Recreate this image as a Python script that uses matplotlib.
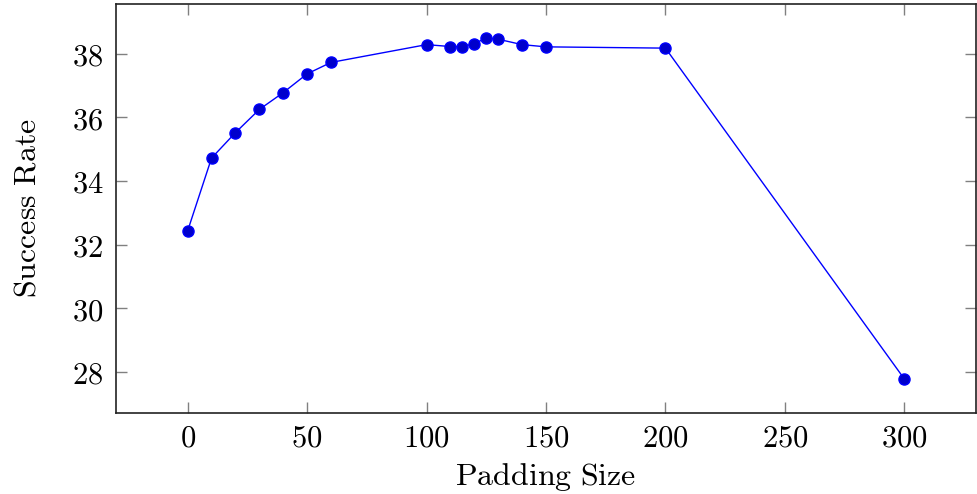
import matplotlib
matplotlib.use("Agg")
import matplotlib.pyplot as plt
from matplotlib.ticker import FuncFormatter, MultipleLocator

# values
padding_size = [0, 10, 20, 30, 40, 50, 60, 100, 110, 115, 120, 125, 130, 140, 150, 200, 300]
success_rate = [32.43, 34.72, 35.52, 36.25, 36.78, 37.37, 37.73, 38.29, 38.23, 38.23,
                38.32, 38.50, 38.46, 38.29, 38.22, 38.18, 27.77]

plt.rcParams["mathtext.fontset"] = "cm"
plt.rcParams["font.family"] = ["DejaVu Serif"]

fig = plt.figure(figsize=(9.77, 4.94), dpi=100)
ax = fig.add_axes([0.1187, 0.164, 0.8803, 0.828])

ax.plot(padding_size, success_rate, color="blue", linewidth=1.0,
        marker="o", markersize=8, markerfacecolor="#0000cc", markeredgecolor="blue")

ax.set_xlim(-30, 330)
ax.set_ylim(26.7, 39.57)
ax.xaxis.set_major_locator(MultipleLocator(50))
ax.yaxis.set_major_locator(MultipleLocator(2))
fmt = FuncFormatter(lambda v, _: f"${v:g}$")
ax.xaxis.set_major_formatter(fmt)
ax.yaxis.set_major_formatter(fmt)

ax.tick_params(direction="in", length=8, width=1.0, color="#808080",
               labelsize=22, top=True, right=True, pad=9)
ax.tick_params(axis="x", pad=7)
for sp in ax.spines.values():
    sp.set_linewidth(1.2)
    sp.set_color("#222222")

ax.set_xlabel(r"$\mathrm{Padding\ Size}$", fontsize=23, labelpad=5)
ax.set_ylabel(r"$\mathrm{Success\ Rate}$", fontsize=23, labelpad=21)

fig.savefig("out.png", dpi=100)
